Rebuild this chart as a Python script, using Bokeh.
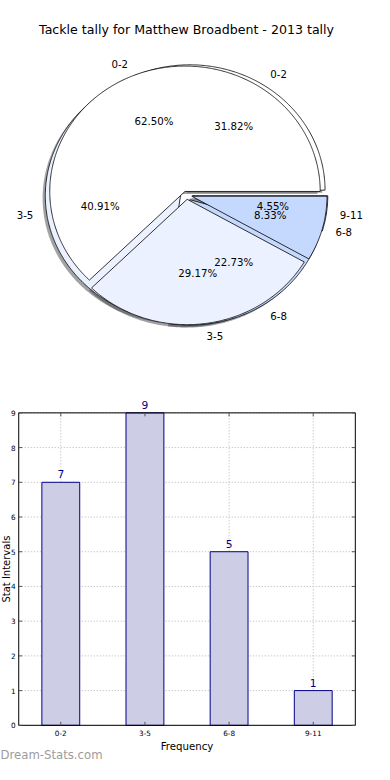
import numpy as np
from bokeh.plotting import figure
from bokeh.models import ColumnDataSource, Range1d
from bokeh.layouts import column
from bokeh.embed import file_html
from bokeh.resources import INLINE
from bokeh.core.properties import value

# ---------------- data ----------------
title_text = "Tackle tally for Matthew Broadbent - 2013 tally"
categories = ["0-2", "3-5", "6-8", "9-11"]

# first pie (drawn on top)
pie1_labels = ["0-2", "3-5", "6-8"]
pie1_values = [15, 7, 2]
pie1_explode = [0.03, 0.035, 0.04]

# second pie (drawn underneath)
pie2_labels = ["0-2", "3-5", "6-8", "9-11"]
pie2_values = [7, 9, 5, 1]
pie2_explode = [0.045, 0.045, 0.045, 0.045]

slice_colors = {"0-2": "#ffffff", "3-5": "#ebf1fe", "6-8": "#c5d8fd", "9-11": "#a6c3f7"}

bar_values = [7, 9, 5, 1]
y_ticks = [0, 1, 2, 3, 4, 5, 6, 7, 8, 9]
x_label = "Frequency"
y_label = "Stat Intervals"
watermark = "Dream-Stats.com"

FONT = "DejaVu Sans"
W = 374                      # page content width
SX, SY = 374 / 390.0, 764 / 780.0   # reference -> page scale


def shade(hexcol, k=0.3):
    h = hexcol.lstrip("#")
    r, g, b = (int(h[i:i + 2], 16) for i in (0, 2, 4))
    return "#%02x%02x%02x" % (int(r * k), int(g * k), int(b * k))


def pie_geometry(labels, vals, explode, pct_dist=0.6, lab_dist=1.1, sh=(-0.02, -0.02)):
    total = float(sum(vals))
    w = dict(xs=[], ys=[], sxs=[], sys=[], color=[], scolor=[])
    pct = dict(x=[], y=[], text=[])
    labl = dict(x=[], y=[], text=[])
    labr = dict(x=[], y=[], text=[])
    start = 0.0
    for lab, v, e in zip(labels, vals, explode):
        span = 360.0 * v / total
        t = np.deg2rad(np.linspace(start, start + span, max(8, int(span * 2))))
        mid = np.deg2rad(start + span / 2.0)
        cx, cy = e * np.cos(mid), e * np.sin(mid)
        wx = np.concatenate([[cx], cx + np.cos(t), [cx]])
        wy = np.concatenate([[cy], cy + np.sin(t), [cy]])
        w["xs"].append(list(wx))
        w["ys"].append(list(wy))
        w["sxs"].append(list(wx + sh[0]))
        w["sys"].append(list(wy + sh[1]))
        w["color"].append(slice_colors[lab])
        w["scolor"].append(shade(slice_colors[lab]))
        pct["x"].append(cx + pct_dist * np.cos(mid))
        pct["y"].append(cy + pct_dist * np.sin(mid))
        pct["text"].append("%.2f%%" % (100.0 * v / total))
        d = labl if np.cos(mid) > 0 else labr
        d["x"].append(cx + lab_dist * np.cos(mid))
        d["y"].append(cy + lab_dist * np.sin(mid))
        d["text"].append(lab)
        start += span
    return w, pct, labl, labr


# ---------------- pie figure ----------------
PH = int(round(380 * SY))                 # 372
RX, RY = 141.0 * SX, 128.0 * SY           # pixels per unit radius
CXP, CYP = 194.0 * SX, 198.5 * SY         # pie centre (figure pixels, from top-left)
PFS = "10.2px"

p1 = figure(width=W, height=PH,
            x_range=Range1d(-CXP / RX, (W - CXP) / RX),
            y_range=Range1d(-(PH - CYP) / RY, CYP / RY),
            x_axis_type=None, y_axis_type=None,
            output_backend="svg", toolbar_location=None, min_border=0)
p1.grid.visible = False
p1.outline_line_color = None
p1.background_fill_color = "white"
p1.border_fill_color = "white"

g1 = pie_geometry(pie1_labels, pie1_values, pie1_explode)
g2 = pie_geometry(pie2_labels, pie2_values, pie2_explode)

for g in (g2, g1):
    p1.patches(xs="sxs", ys="sys", fill_color="scolor", fill_alpha=0.5,
               line_color=None, source=ColumnDataSource(g[0]))
for g in (g2, g1):
    p1.patches(xs="xs", ys="ys", fill_color="color", line_color="black",
               line_width=0.8, source=ColumnDataSource(g[0]))
for g in (g2, g1):
    _, pct, labl, labr = g
    for src, al in ((pct, "center"), (labl, "left"), (labr, "right")):
        p1.text(x="x", y="y", text="text", source=ColumnDataSource(src),
                text_align=al, text_baseline="middle",
                text_font=value(FONT), text_font_size=PFS, text_color="black")

p1.text(x=[0.0], y=[(CYP - 30.0 * SY) / RY], text=[title_text],
        text_align="center", text_baseline="middle",
        text_font=value(FONT), text_font_size="12.6px", text_color="black")

# ---------------- bar figure ----------------
BH = 764 - PH                                  # 392
top_px = 421 * SY - PH                         # frame top inside figure
bot_px = 740 * SY - PH                         # frame bottom inside figure
left_px = 19 * SX
right_px = 370 * SX
ncat = len(categories)
xpos = list(range(ncat))
ppx = (right_px - left_px) / float(ncat)       # pixels per category
y_top = float(max(y_ticks))
ppy = (bot_px - top_px) / y_top                # pixels per unit
x0, x1 = -0.5, ncat - 0.5
nyt = len(y_ticks)

p2 = figure(width=W, height=BH,
            x_range=Range1d(x0 - left_px / ppx, x1 + (W - right_px) / ppx),
            y_range=Range1d(-(BH - bot_px) / ppy, y_top + top_px / ppy),
            x_axis_type=None, y_axis_type=None,
            output_backend="svg", toolbar_location=None, min_border=0)
p2.grid.visible = False
p2.outline_line_color = None
p2.background_fill_color = "white"
p2.border_fill_color = "white"

# dotted grid inside the axes box
gkw = dict(line_color="#b4b4b4", line_dash="1 2", line_width=1)
p2.segment(x0=xpos, y0=[0] * ncat, x1=xpos, y1=[y_top] * ncat, **gkw)
p2.segment(x0=[x0] * nyt, y0=y_ticks, x1=[x1] * nyt, y1=y_ticks, **gkw)

bsrc = ColumnDataSource(dict(x=xpos, top=bar_values, txt=[str(v) for v in bar_values]))
p2.vbar(x="x", top="top", width=0.45, source=bsrc,
        fill_color="#cdcde6", line_color="#00008b", line_width=1)
p2.text(x="x", y="top", text="txt", source=bsrc,
        text_align="center", text_baseline="middle", y_offset=-8,
        text_font=value(FONT), text_font_size="10.7px", text_color="#00008b")

# axes box
p2.quad(left=[x0], right=[x1], bottom=[0], top=[y_top],
        fill_color=None, line_color="black", line_width=1)

# inward ticks on all four sides
tl = 3.5
tkw = dict(line_color="#555555", line_width=1)
p2.segment(x0=[x0] * nyt, y0=y_ticks, x1=[x0 + tl / ppx] * nyt, y1=y_ticks, **tkw)
p2.segment(x0=[x1] * nyt, y0=y_ticks, x1=[x1 - tl / ppx] * nyt, y1=y_ticks, **tkw)
p2.segment(x0=xpos, y0=[0] * ncat, x1=xpos, y1=[tl / ppy] * ncat, **tkw)
p2.segment(x0=xpos, y0=[y_top] * ncat, x1=xpos, y1=[y_top - tl / ppy] * ncat, **tkw)

# tick labels
p2.text(x=[x0] * nyt, y=y_ticks, text=[str(t) for t in y_ticks],
        x_offset=-3, text_align="right", text_baseline="middle",
        text_font=value(FONT), text_font_size="7.3px", text_color="black")
p2.text(x=xpos, y=[0] * ncat, text=categories,
        y_offset=8, text_align="center", text_baseline="middle",
        text_font=value(FONT), text_font_size="7.3px", text_color="black")

# axis labels
p2.text(x=[(x0 + x1) / 2.0], y=[0], text=[x_label], y_offset=21,
        text_align="center", text_baseline="middle",
        text_font=value(FONT), text_font_size="10.2px", text_color="black")
p2.text(x=[x0], y=[y_top / 2.0], text=[y_label], x_offset=-12, angle=np.pi / 2,
        text_align="center", text_baseline="middle",
        text_font=value(FONT), text_font_size="10px", text_color="black")

# watermark
p2.text(x=[x0], y=[0], text=[watermark], x_offset=-left_px, y_offset=30,
        text_align="left", text_baseline="middle",
        text_font=value(FONT), text_font_size="11.7px", text_color="#9c9c9c")

layout = column(p1, p2)
open("out.html", "w").write(file_html(layout, INLINE))
